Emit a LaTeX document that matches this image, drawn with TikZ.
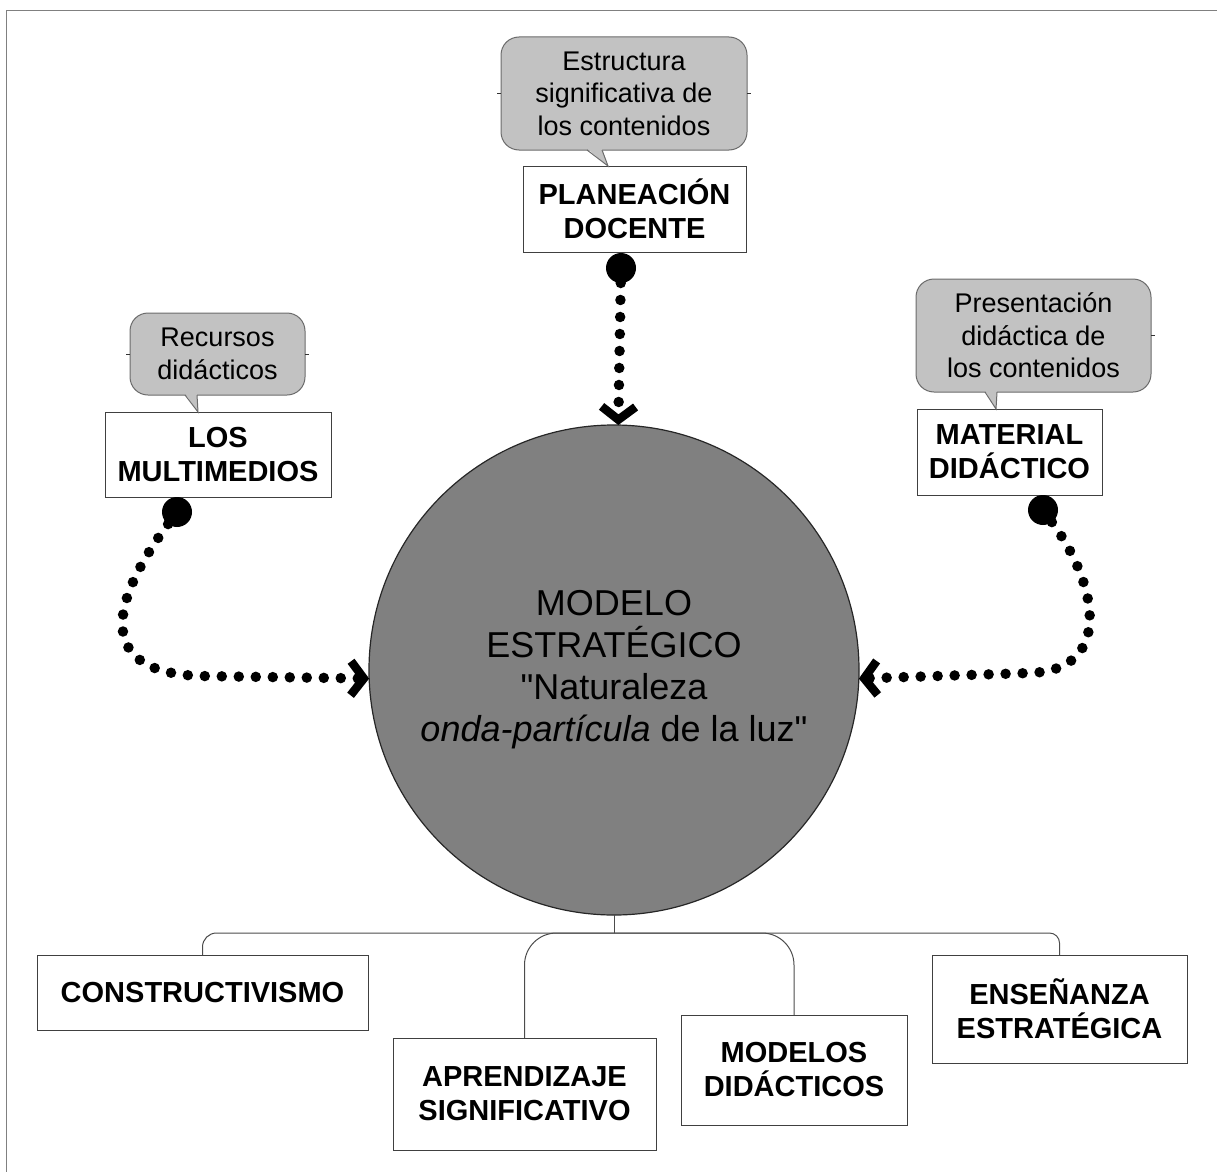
\documentclass[tikz,border=0pt]{standalone}
\usepackage{fontspec}
\setmainfont{Liberation Sans}
\usetikzlibrary{arrows.meta}
\definecolor{framegray}{gray}{0.5}
\definecolor{modelgray}{gray}{0.5}
\definecolor{notegray}{gray}{0.76}
\definecolor{noteline}{gray}{0.42}
\begin{document}
\begin{tikzpicture}[x=1pt,y=-1pt,
  every node/.style={inner sep=0pt,outer sep=0pt,align=center},
  conceptbox/.style 2 args={draw=black!75,line width=1pt,fill=white,
    minimum width=#1,minimum height=#2,
    font=\fontsize{29}{34}\selectfont\bfseries},
  note/.style 2 args={draw=noteline,line width=1pt,fill=notegray,
    rounded corners=18pt,minimum width=#1,minimum height=#2,
    font=\fontsize{27}{32.5}\selectfont},
  notetail/.style={draw=noteline,line width=1pt},
  bigdot/.style={circle,fill=black,minimum size=30pt},
  dotline/.style={line width=10.5pt,line cap=round,dash pattern=on 0pt off 17pt,
    -{Straight Barb[length=13pt,width=34pt,line width=8.5pt]}},
  treeline/.style={draw=black!70,line width=1pt},
  tick/.style={draw=black!80,line width=0.8pt}]
\useasboundingbox (0,0) rectangle (1217,1172);
% frame along the top and left edges
\draw[framegray,line width=1.5pt] (1217,10.3) -- (6.3,10.3) -- (6.3,1172);

% central model
\node[circle,draw=black!85,line width=1.2pt,fill=modelgray,minimum size=490pt,
  font=\fontsize{36}{42}\selectfont] (model) at (614,670)
  {MODELO\\ESTRATÉGICO\\\textquotedbl Naturaleza\\\textit{onda-partícula} de la luz\textquotedbl};

% upper concept boxes
\node[conceptbox={223pt}{86pt}] (plan) at (634.5,209) {PLANEACIÓN\\DOCENTE};
\node[conceptbox={226pt}{85pt}] (multi) at (218,454.5) {LOS\\MULTIMEDIOS};
\node[conceptbox={185pt}{86pt}] (mat) at (1009.5,452) {MATERIAL\\DIDÁCTICO};

% notes above the boxes
\node[note={246pt}{113pt}] (n1) at (624,93.5) {Estructura\\significativa de\\los contenidos};
\fill[notegray] (587,148.6) -- (608,166) -- (602,148.6) -- cycle;
\draw[notetail] (587,150) -- (608,166) -- (602,150);
\draw[tick] (n1.west) -- ++(-4,0);
\draw[tick] (n1.east) -- ++(4,0);

\node[note={175pt}{82pt}] (n2) at (217.5,354) {Recursos\\didácticos};
\fill[notegray] (185,393.6) -- (198,412) -- (197,393.6) -- cycle;
\draw[notetail] (185,395) -- (198,412) -- (197,395);
\draw[tick] (n2.west) -- ++(-4,0);
\draw[tick] (n2.east) -- ++(4,0);

\node[note={235pt}{113pt}] (n3) at (1033.5,335.5) {Presentación\\didáctica de\\los contenidos};
\fill[notegray] (985,390.6) -- (996,409) -- (997,390.6) -- cycle;
\draw[notetail] (985,392) -- (996,409) -- (997,392);
\draw[tick] (n3.east) -- ++(4,0);

% dotted connectors into the model
\node[bigdot] (d1) at (621,268) {};
\node[bigdot] (d2) at (177,512) {};
\node[bigdot] (d3) at (1043,510) {};
\draw[dotline] (d1) -- (model);
\draw[dotline] (d2) .. controls (112,600) and (92,672) .. (200,676) -- (model.182);
\draw[dotline] (d3) .. controls (1098,585) and (1114,670) .. (1030,673) -- (model.358);

% lower concept boxes
\node[conceptbox={331pt}{75pt}] (b1) at (202.5,992.5) {CONSTRUCTIVISMO};
\node[conceptbox={263pt}{112pt}] (b2) at (524.5,1094) {APRENDIZAJE\\SIGNIFICATIVO};
\node[conceptbox={226pt}{110pt}] (b3) at (794,1070) {MODELOS\\DIDÁCTICOS};
\node[conceptbox={255pt}{108pt}] (b4) at (1059.5,1009) {ENSEÑANZA\\ESTRATÉGICA};

% tree below the model
\coordinate (j) at (614,933);
\draw[treeline] (model.south) -- (j);
\draw[treeline,rounded corners=14pt] (j) -| (b1.north);
\draw[treeline,rounded corners=32pt] (j) -| (b2.north);
\draw[treeline,rounded corners=32pt] (j) -| (b3.north);
\draw[treeline,rounded corners=10pt] (j) -| (b4.north);
\end{tikzpicture}
\end{document}
